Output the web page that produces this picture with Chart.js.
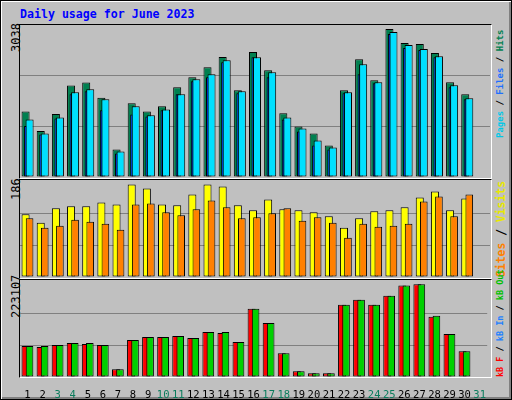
<!DOCTYPE html>
<html><head><meta charset="utf-8">
<script src="https://cdn.jsdelivr.net/npm/chart.js@4"></script>
<style>
html,body{margin:0;padding:0}
#frame{position:absolute;left:0;top:0;width:510px;height:398px;background:#c0c0c0;border:1px solid #000;box-shadow:inset 1px 1px 0 #fff,inset -2px -2px 0 #808080}
.t{position:absolute;font-family:"DejaVu Sans Mono",monospace;white-space:nowrap}
.rot{transform-origin:0 0;transform:rotate(-90deg)}
.plot{position:absolute;border-top:1px solid #000;border-left:1px solid #000;border-right:1px solid #fff;border-bottom:1px solid #fff}
canvas{position:absolute}
</style></head><body>
<div id="frame"></div>
<div class="t" style="left:20px;top:7px;font-size:11.6px;font-weight:bold;color:#0000ff">Daily usage for June 2023</div>
<div class="plot" style="left:19px;top:24px;width:471px;height:153px"></div>
<div class="plot" style="left:19px;top:179px;width:471px;height:98px"></div>
<div class="plot" style="left:19px;top:279px;width:471px;height:97px"></div>
<div class="t rot" style="left:9px;top:52px;font-size:12px;color:#000">3038</div>
<div class="t rot" style="left:9px;top:200px;font-size:12px;color:#000">186</div>
<div class="t rot" style="left:9px;top:318px;font-size:12px;color:#000">223107</div>
<div class="t rot" style="left:495px;top:138px;font-size:9px;font-weight:bold"><span style="color:#00c8e8">Pages</span> / <span style="color:#2070ff">Files</span> / <span style="color:#008050">Hits</span></div>
<div class="t rot" style="left:494px;top:277px;font-size:11.4px;font-weight:bold"><span style="color:#ff8000">Sites</span> / <span style="color:#e8e800">Visits</span></div>
<div class="t rot" style="left:495px;top:377px;font-size:8.5px;font-weight:bold"><span style="color:#ff0000">kB F</span> / <span style="color:#2080ff">kB In</span> / <span style="color:#00c000">kB Out</span></div>
<canvas id="c1" width="470" height="152" style="left:20px;top:25px"></canvas>
<canvas id="c2" width="470" height="96" style="left:20px;top:181px"></canvas>
<canvas id="c3" width="470" height="118" style="left:20px;top:281px"></canvas>
<script>
const days = Array.from({length:31},(_, i)=>String(i+1));
const weekendDays = ['3','4','10','11','17','18','24','25','31'];
const hits  = [1347,942,1292,1876,1938,1629,564,1512,1347,1450,1842,2048,2254,2461,1780,2564,2193,1306,1038,893,646,1780,2419,1986,3038,2749,2728,2543,1945,1698];
const files = [1182,893,1223,1739,1801,1594,522,1450,1265,1388,1698,2007,2110,2399,1759,2460,2151,1223,997,749,605,1739,2316,1945,2976,2708,2625,2481,1883,1615];
const pages = [1045,873,1203,1698,1759,1368,481,1285,1244,1368,1698,1966,2048,2357,1718,2460,2048,1182,935,646,564,1718,2110,1924,2935,2646,2605,2460,1842,1594];
const visits = [126,109,138,142,142,150,146,186,178,146,144,166,186,182,144,134,156,136,134,130,122,99,118,132,134,140,160,172,134,158];
const sites  = [118,99,103,115,111,107,95,146,148,130,124,136,154,140,118,120,128,138,113,120,109,79,107,101,103,107,152,162,122,166];
const kbF   = [74373,71948,76798,81648,79223,76798,18593,88924,96200,96200,98625,93774,108326,105900,84074,164105,130152,57396,13743,8892,8892,173806,185932,173806,195633,219885,223118,144704,103475,62247];
const kbOut = [74373,74373,76798,81648,81648,76798,18593,88924,96200,96200,98625,93774,108326,108326,84074,164105,130152,57396,13743,8892,8892,173806,185932,173806,195633,219885,223118,147129,103475,62247];

const orderPlugin = {id:'ord', beforeDatasetsDraw(chart){
  const metas = chart.getSortedVisibleDatasetMetas();
  for (const m of metas) m.controller.draw();
  return false;
}};
function ds(data, color, stack, pct){
  return {data, backgroundColor:color, borderColor:'#000', borderWidth:1, stack, barPercentage:pct, categoryPercentage:0.53, borderSkipped:false};
}
function yScale(max, step){
  return {display:true, min:0, max, stacked:false, afterFit:s=>{s.width=0},
    ticks:{display:false, stepSize:step},
    border:{display:false},
    grid:{drawTicks:false, color:c=>(c.tick.value<=0||c.tick.value>=max-1)?'rgba(0,0,0,0)':'#808080', lineWidth:1}};
}
function make(id, datasets, max, step, showX){
  new Chart(document.getElementById(id), {
    type:'bar',
    data:{labels:days, datasets},
    options:{responsive:false, animation:false, devicePixelRatio:1,
      layout:{padding:0},
      plugins:{legend:{display:false}, tooltip:{enabled:false}},
      scales:{
        x: showX ? {display:true, grid:{display:false}, border:{display:false},
              afterFit:s=>{s.height=22},
              ticks:{padding:4, maxRotation:0, autoSkip:false, font:{family:'DejaVu Sans Mono', size:10.5},
                color:c=>weekendDays.includes(days[c.index])?'#0a7c5c':'#000'}}
            : {display:false},
        y: yScale(max, step)
      }}
    , plugins:[orderPlugin]
  });
}
make('c1', [ds(hits,'#008050','a',2), ds(pages,'#0040ff','a',0.75), ds(files,'#00e0ff','b',2)], 3120, 1040, false);
make('c2', [ds(visits,'#ffff00','a',2), ds(sites,'#ff8000','b',1.9)], 193, 193/3, false);
make('c3', [ds(kbF,'#ff0000','a',2), ds(kbOut,'#00d000','b',1.9)], 231000, 77000, true);
</script>
</body></html>
